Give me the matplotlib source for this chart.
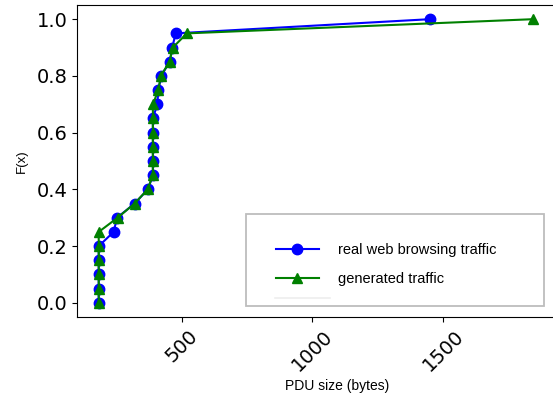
import matplotlib
matplotlib.use("Agg")
import matplotlib.pyplot as plt
from matplotlib.lines import Line2D
from matplotlib.patches import Rectangle

# CDF de tamaños de PDU: tráfico real vs. tráfico generado
prob = [0.0, 0.05, 0.10, 0.15, 0.20, 0.25, 0.30, 0.35, 0.40, 0.45, 0.50,
        0.55, 0.60, 0.65, 0.70, 0.75, 0.80, 0.85, 0.90, 0.95, 1.0]

tam_real = [183, 183, 183, 183, 183, 240, 253, 320, 371, 390, 390,
            390, 390, 390, 407, 411, 422, 454, 464, 477, 1449]

tam_generado = [183, 183, 183, 183, 183, 183, 255, 320, 370, 390, 390,
                390, 390, 390, 390, 411, 420, 454, 466, 520, 1844]

etiquetas = ["real web browsing traffic", "generated traffic"]

fig = plt.figure(figsize=(5.53, 3.94), dpi=100)
ax = fig.add_axes([77 / 553, 77 / 394, 478 / 553, 312 / 394])

ax.plot(tam_real, prob, color="blue", marker="o", markersize=7.5,
        linewidth=1.5, label=etiquetas[0])
ax.plot(tam_generado, prob, color="green", marker="^", markersize=7.5,
        linewidth=1.5, label=etiquetas[1])

ax.set_xticks([500, 1000, 1500])
ax.set_yticks([0.0, 0.2, 0.4, 0.6, 0.8, 1.0])
ax.tick_params(axis="both", labelsize=14)
plt.setp(ax.get_xticklabels(), rotation=45)

fuente = "Liberation Sans"
ax.set_xlabel("PDU size (bytes)", fontsize=10, family=fuente)
ax.set_ylabel("F(x)", fontsize=9.5, family=fuente)
ax.xaxis.set_label_coords((337 - 77) / 478, -0.2)
ax.yaxis.set_label_coords(-(77 - 28) / 478, 0.5)

# caja de la leyenda dibujada aparte para controlar los márgenes
caja = Rectangle((0.354, 0.035), 0.623, 0.295, transform=ax.transAxes,
                 facecolor="white", edgecolor="#bdbdbd", linewidth=1.3,
                 zorder=4)
ax.add_patch(caja)
ax.add_line(Line2D([0.414, 0.529], [0.061, 0.061], transform=ax.transAxes,
                   color="#eeeeee", linewidth=1.2, zorder=5))

leg = ax.legend(loc="upper left", bbox_to_anchor=(0.416, 0.236),
                prop={"family": fuente, "size": 10.5}, handlelength=2.95,
                handletextpad=1.3, borderpad=0, labelspacing=1.0,
                frameon=False, borderaxespad=0)
leg.set_zorder(6)

fig.savefig("out.png", dpi=100)
